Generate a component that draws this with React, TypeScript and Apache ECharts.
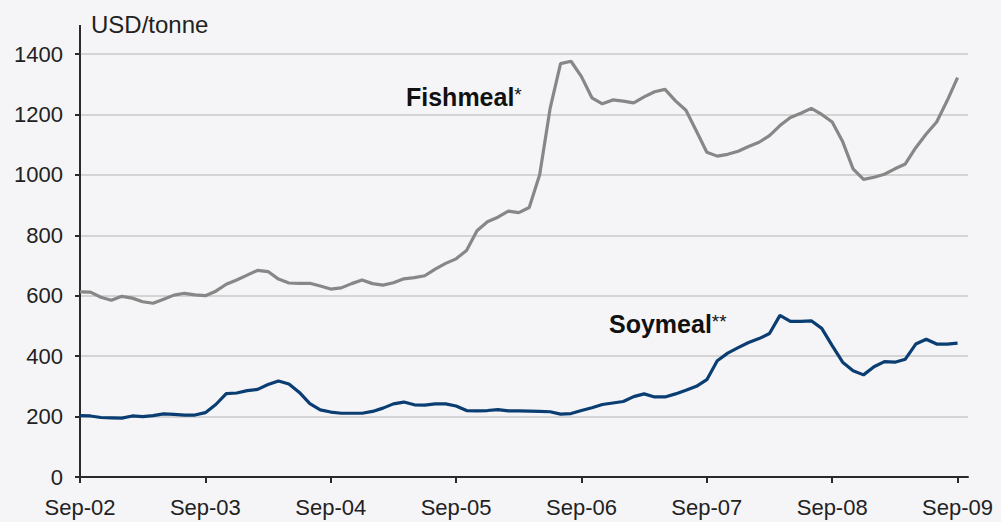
import React, { useEffect, useRef } from "react";
import * as echarts from "echarts";

// Monthly categories, Sep-02 .. Oct-09
const MONTHS = ["Jan", "Feb", "Mar", "Apr", "May", "Jun", "Jul", "Aug", "Sep", "Oct", "Nov", "Dec"];
const START_YEAR = 2002;
const START_MONTH = 8; // Sep
const N_CATEGORIES = 86;
const categories: string[] = [];
for (let k = 0; k < N_CATEGORIES; k++) {
  const m = (START_MONTH + k) % 12;
  const y = START_YEAR + Math.floor((START_MONTH + k) / 12);
  categories.push(`${MONTHS[m]}-${String(y % 100).padStart(2, "0")}`);
}

// USD/tonne, monthly from Sep-02
const fishmeal = [
  613, 612, 595, 585, 598, 592, 580, 575, 588, 602, 608, 603,
  600, 615, 638, 652, 668, 684, 680, 655, 642, 641, 641, 632,
  622, 626, 640, 652, 640, 635, 643, 656, 660, 666, 688, 707,
  722, 750, 815, 845, 860, 880, 875, 892, 1000, 1220, 1368, 1376,
  1325, 1255, 1235, 1248, 1244, 1238, 1258, 1275, 1283, 1245, 1214, 1145,
  1075, 1062, 1068, 1078, 1094, 1108, 1130, 1163, 1190, 1204, 1220, 1200,
  1175, 1110, 1020, 985, 992, 1002, 1020, 1036, 1090, 1135, 1175, 1245,
  1322,
];

const soymeal = [
  203, 202, 197, 196, 195, 202, 200, 203, 209, 207, 205, 205,
  213, 240, 276, 278, 286, 290, 306, 318, 308, 280, 243, 222,
  215, 211, 211, 211, 217, 228, 242, 248, 239, 238, 242, 242,
  235, 220, 219, 220, 223, 219, 219, 218, 217, 216, 208, 210,
  220, 229, 240, 245, 250, 266, 275, 265, 265, 275, 287, 300,
  322, 385, 410, 428, 445, 458, 475, 535, 515, 515, 517, 492,
  435, 380, 352, 338, 365, 382, 380, 390, 440, 456, 440, 440,
  443,
];

const Y_MIN = 0;
const Y_MAX = 1400;
const Y_INTERVAL = 200;
const LABEL_EVERY = 12;

const FONT = "'Liberation Sans', Arial, sans-serif";

export default function App() {
  const ref = useRef<HTMLDivElement>(null);
  useEffect(() => {
    if (!ref.current) return;
    const chart = echarts.init(ref.current, undefined, { renderer: "svg" });
    chart.setOption({
      animation: false,
      backgroundColor: "#f5f5f7",
      grid: { left: 80, right: 33, top: 54, bottom: 45, containLabel: false },
      xAxis: {
        type: "category",
        data: categories,
        boundaryGap: false,
        axisLine: { show: true, lineStyle: { color: "#2a2a2a", width: 2 } },
        axisTick: {
          show: true,
          length: 6,
          interval: (i: number) => i % LABEL_EVERY === 0,
          lineStyle: { color: "#2a2a2a", width: 2 },
        },
        axisLabel: {
          interval: (i: number) => i % LABEL_EVERY === 0,
          margin: 19,
          color: "#222",
          fontSize: 22,
          fontFamily: FONT,
        },
        splitLine: { show: false },
      },
      yAxis: {
        type: "value",
        min: Y_MIN,
        max: Y_MAX,
        interval: Y_INTERVAL,
        axisLine: { show: true, lineStyle: { color: "#2a2a2a", width: 2 } },
        axisTick: { show: true, length: 5, lineStyle: { color: "#2a2a2a", width: 2 } },
        axisLabel: {
          margin: 17,
          color: "#222",
          fontSize: 22,
          fontFamily: FONT,
          formatter: (v: number) => String(v),
        },
        splitLine: { show: true, lineStyle: { color: "#c9c9c9", width: 1.5 } },
      },
      series: [
        {
          name: "Fishmeal*",
          type: "line",
          data: fishmeal,
          showSymbol: false,
          lineStyle: { color: "#878787", width: 3.2 },
          itemStyle: { color: "#878787" },
        },
        {
          name: "Soymeal**",
          type: "line",
          data: soymeal,
          showSymbol: false,
          lineStyle: { color: "#0a3d72", width: 3.2 },
          itemStyle: { color: "#0a3d72" },
        },
      ],
      graphic: [
        {
          type: "line",
          shape: { x1: 80, y1: 25, x2: 80, y2: 54 },
          style: { stroke: "#2a2a2a", lineWidth: 2 },
        },
        {
          type: "text",
          x: 91,
          y: 24,
          style: {
            text: "USD/tonne",
            fill: "#222",
            font: `24px ${FONT}`,
            verticalAlign: "middle",
            align: "left",
          },
        },
        {
          type: "text",
          x: 406,
          y: 97,
          style: {
            text: "{a|Fishmeal}{s|*}",
            verticalAlign: "middle",
            align: "left",
            rich: {
              a: { fontSize: 25, fontWeight: "bold", fontFamily: FONT, fill: "#111" },
              s: { fontSize: 19, fontFamily: FONT, fill: "#111", verticalAlign: "top" },
            },
          },
        },
        {
          type: "text",
          x: 609,
          y: 324,
          style: {
            text: "{a|Soymeal}{s|**}",
            verticalAlign: "middle",
            align: "left",
            rich: {
              a: { fontSize: 25, fontWeight: "bold", fontFamily: FONT, fill: "#111" },
              s: { fontSize: 19, fontFamily: FONT, fill: "#111", verticalAlign: "top" },
            },
          },
        },
      ],
    });
    return () => chart.dispose();
  }, []);
  return (
    <div
      ref={ref}
      style={{ position: "fixed", left: 0, top: 0, width: 1001, height: 522, background: "#f5f5f7" }}
    />
  );
}
